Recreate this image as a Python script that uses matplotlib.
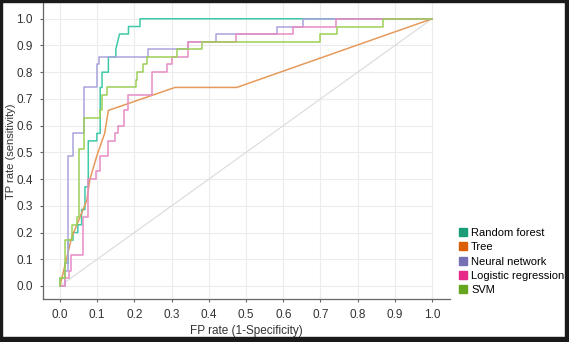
import matplotlib
matplotlib.use("Agg")
import matplotlib.pyplot as plt
from matplotlib.lines import Line2D
from matplotlib.patches import Rectangle

plt.rcParams['font.family'] = ['Liberation Sans', 'DejaVu Sans']

# ROC points (FP rate, TP rate) for each model
rf_fpr = [0, 0, 0.013, 0.013, 0.022, 0.022, 0.035, 0.035, 0.048, 0.048, 0.058, 0.058,
          0.067, 0.067, 0.076, 0.076, 0.099, 0.099, 0.108, 0.108, 0.113, 0.113, 0.13, 0.13,
          0.15, 0.15, 0.16, 0.184, 0.184, 0.215, 0.215, 1.0]
rf_tpr = [0, 0.029, 0.029, 0.086, 0.086, 0.171, 0.171, 0.2, 0.2, 0.229, 0.229, 0.286,
          0.286, 0.371, 0.371, 0.543, 0.543, 0.571, 0.571, 0.743, 0.743, 0.8, 0.8, 0.857,
          0.857, 0.886, 0.943, 0.943, 0.971, 0.971, 1.0, 1.0]

tree_fpr = [0, 0.031, 0.072, 0.08, 0.099, 0.12, 0.13, 0.309, 0.475, 1.0]
tree_tpr = [0, 0.18, 0.32, 0.397, 0.487, 0.571, 0.657, 0.743, 0.743, 1.0]

nn_fpr = [0, 0.013, 0.013, 0.022, 0.022, 0.034, 0.034, 0.0645, 0.0645, 0.0986, 0.0986,
          0.106, 0.106, 0.237, 0.237, 0.345, 0.345, 0.419, 0.419, 0.582, 0.582, 0.654,
          0.654, 1.0]
nn_tpr = [0, 0, 0.057, 0.057, 0.486, 0.486, 0.571, 0.571, 0.743, 0.743, 0.829,
          0.829, 0.857, 0.857, 0.886, 0.886, 0.914, 0.914, 0.943, 0.943, 0.971, 0.971,
          1.0, 1.0]

lr_fpr = [0, 0.013, 0.013, 0.024, 0.024, 0.03, 0.03, 0.063, 0.063, 0.076, 0.076, 0.098,
          0.098, 0.108, 0.108, 0.13, 0.13, 0.148, 0.148, 0.155, 0.155, 0.172, 0.172, 0.184,
          0.184, 0.246, 0.246, 0.287, 0.287, 0.3, 0.3, 0.345, 0.345, 0.473, 0.473, 0.625,
          0.625, 0.742, 0.742, 1.0]
lr_tpr = [0, 0, 0.029, 0.029, 0.057, 0.057, 0.114, 0.114, 0.257, 0.257, 0.4, 0.4,
          0.429, 0.429, 0.486, 0.486, 0.543, 0.543, 0.571, 0.571, 0.6, 0.6, 0.657, 0.657,
          0.714, 0.714, 0.8, 0.8, 0.829, 0.829, 0.857, 0.857, 0.914, 0.914, 0.943, 0.943,
          0.971, 0.971, 1.0, 1.0]

svm_fpr = [0, 0, 0.013, 0.013, 0.031, 0.031, 0.045, 0.045, 0.052, 0.052, 0.0645, 0.0645,
           0.1075, 0.1075, 0.113, 0.113, 0.127, 0.127, 0.204, 0.204, 0.207, 0.207, 0.222,
           0.222, 0.233, 0.233, 0.314, 0.314, 0.381, 0.381, 0.699, 0.699, 0.744, 0.744,
           0.869, 0.869, 1.0]
svm_tpr = [0, 0.029, 0.029, 0.171, 0.171, 0.229, 0.229, 0.257, 0.257, 0.514, 0.514, 0.629,
           0.629, 0.657, 0.657, 0.714, 0.714, 0.743, 0.743, 0.771, 0.771, 0.8, 0.8,
           0.829, 0.829, 0.857, 0.857, 0.886, 0.886, 0.914, 0.914, 0.943, 0.943, 0.971,
           0.971, 1.0, 1.0]

labels = ["Random forest", "Tree", "Neural network", "Logistic regression", "SVM"]
key_colors = ["#1b9e77", "#d95f02", "#7570b3", "#e7298a", "#66a61e"]
line_colors = ["#3fc9a9", "#e59a5c", "#aaa4dc", "#e68cc4", "#9ccf55"]
curves = [(rf_fpr, rf_tpr), (tree_fpr, tree_tpr), (nn_fpr, nn_tpr),
          (lr_fpr, lr_tpr), (svm_fpr, svm_tpr)]
ticks = [0.0, 0.1, 0.2, 0.3, 0.4, 0.5, 0.6, 0.7, 0.8, 0.9, 1.0]

W, H = 569, 342
fig = plt.figure(figsize=(W / 100, H / 100), dpi=100)
ax = fig.add_axes([42.7 / W, 1 - 299.3 / H, (450 - 42.7) / W, (299.3 - 3) / H])
ax.set_xlim(-0.0465, 1.048)
ax.set_ylim(-0.05, 1.059)

# light grid, clipped to the unit square on the right
for t in ticks:
    ax.plot([-0.0465, 1.0], [t, t], color="#ececec", lw=0.8, zorder=0)
    ax.plot([t, t], [-0.05, 1.059], color="#ececec", lw=0.8, zorder=0)

ax.plot([0, 1], [0, 1], color="#dadada", lw=0.8, zorder=1)

for (fx, ty), c in zip(curves, line_colors):
    ax.plot(fx, ty, color=c, lw=1.1, zorder=2)

for s in ["top", "right"]:
    ax.spines[s].set_visible(False)
for s in ["left", "bottom"]:
    ax.spines[s].set_color("#666666")
    ax.spines[s].set_linewidth(0.9)

ax.set_xticks(ticks)
ax.set_yticks(ticks)
ax.set_xticklabels(["%.1f" % t for t in ticks])
ax.set_yticklabels(["%.1f" % t for t in ticks])
ax.tick_params(length=2.5, width=0.8, color="#666666", labelsize=8.5,
               labelcolor="#333333", pad=4.5)
ax.set_xlabel("FP rate (1-Specificity)", fontsize=8.5, color="#333333", labelpad=3)
ax.set_ylabel("TP rate (sensitivity)", fontsize=8, color="#333333")
ax.yaxis.set_label_coords(-0.066, 0.5)

handles = [Line2D([], [], marker="s", linestyle="none", markersize=6,
                  markerfacecolor=c, markeredgecolor=c) for c in key_colors]
fig.legend(handles, labels, loc="upper left", bbox_to_anchor=(459 / W, 1 - 228 / H),
           frameon=False, fontsize=8, handlelength=0.7, handletextpad=0.4,
           labelspacing=0.39, borderaxespad=0, borderpad=0)

# dark frame round the figure
frame = "#1a1a1a"
for x0, y0, w, h in [(0, 0, 2, H), (0, 0, W, 1.5), (565, 0, 4, H), (0, 337, W, 5)]:
    fig.patches.append(Rectangle((x0 / W, 1 - (y0 + h) / H), w / W, h / H,
                                 transform=fig.transFigure, color=frame, zorder=10))

fig.savefig("out.png", dpi=100)
